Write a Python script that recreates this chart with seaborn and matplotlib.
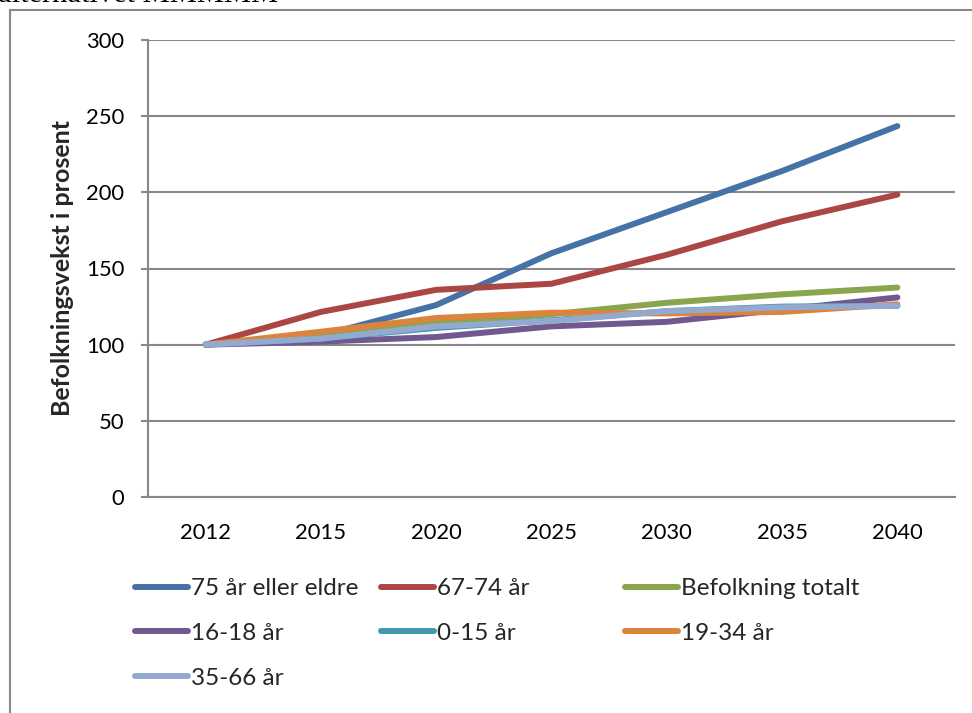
import matplotlib
matplotlib.use("Agg")
import matplotlib.pyplot as plt
import seaborn as sns
import pandas as pd
from matplotlib.lines import Line2D
from matplotlib.patches import Rectangle

years = ["2012", "2015", "2020", "2025", "2030", "2035", "2040"]
s_75 = [100, 106, 126, 160, 187, 214, 243.5]
s_6774 = [100, 121.5, 136, 140, 159, 181, 198.5]
s_total = [100, 106, 114, 120, 127.5, 133, 137.5]
s_1618 = [100, 102, 105, 112, 115, 123, 131]
s_015 = [100, 104, 111, 116, 122, 125, 125.5]
s_1934 = [100, 108.5, 117.5, 121, 120.5, 121.5, 126.5]
s_3566 = [100, 104, 112, 115.5, 122, 124.5, 125.5]

series_names = ["75 år eller eldre", "67-74 år", "Befolkning totalt",
                "16-18 år", "0-15 år", "19-34 år", "35-66 år"]
series_vals = [s_75, s_6774, s_total, s_1618, s_015, s_1934, s_3566]
colors = ["#4572A7", "#AA4643", "#89A54E", "#71588F", "#4198AF", "#DB843D", "#93A9CF"]

rows = []
for name, vals in zip(series_names, series_vals):
    for i, (yr, v) in enumerate(zip(years, vals)):
        rows.append({"pos": i, "year": yr, "value": v, "serie": name})
df = pd.DataFrame(rows)

sns.set_theme(style="white")
plt.rcParams["font.family"] = ["Lato", "DejaVu Sans"]

W, H = 972, 713
fig = plt.figure(figsize=(W / 100, H / 100), dpi=100)
ax = fig.add_axes([148 / W, 1 - 497 / H, (955 - 148) / W, (497 - 40) / H])

LW = 4.3
palette = dict(zip(series_names, colors))
sns.lineplot(data=df, x="pos", y="value", hue="serie", hue_order=series_names,
             palette=palette, sort=False, lw=LW, ax=ax, legend=False)
for ln in ax.lines:
    ln.set_solid_capstyle("round")
    ln.set_solid_joinstyle("round")
    ln.set_clip_on(False)

grid_c = "#888888"
ax.set_xlim(-0.5, len(years) - 0.5)
ax.set_ylim(0, 300)
ax.set_yticks(range(0, 301, 50))
ax.yaxis.grid(True, color=grid_c, lw=1.5)
ax.xaxis.grid(False)
ax.set_axisbelow(True)
for s in ["top", "right"]:
    ax.spines[s].set_visible(False)
for s in ["left", "bottom"]:
    ax.spines[s].set_color(grid_c)
    ax.spines[s].set_linewidth(1.5)

fs = 15.8
ax.set_xticks(range(len(years)))
ax.set_xticklabels(years, fontsize=fs, color="black")
ax.set_xticks([i - 0.5 for i in range(len(years) + 1)], minor=True)
ax.tick_params(axis="x", which="major", length=0, pad=19)
ax.tick_params(axis="x", which="minor", length=5, width=1.5, color=grid_c, direction="out")
ax.tick_params(axis="y", which="major", length=5, width=1.5, color=grid_c, pad=12,
               labelsize=fs, labelcolor="black", left=True)
ax.set_xlabel("")
ax.set_ylabel("Befolkningsvekst i prosent", fontsize=18, fontweight="bold")
ax.yaxis.set_label_coords((74 - 148) / (955 - 148), 0.5)

# outer frame (text box border)
fig.patches.append(Rectangle((10 / W, -0.1), 1.2, 1.1 - 10.5 / H, transform=fig.transFigure,
                             fill=False, edgecolor="#888888", lw=1.5))
fig.text(-2 / W, 1 - 2 / H, "alternativet MMMMM", family="Liberation Serif",
         fontsize=22, va="baseline", ha="left", color="black")

# legend as three column blocks
lfs = 17.5
cols = [[0, 3, 6], [1, 4], [2, 5]]
xstarts = [135, 381, 625]
for col, xs in zip(cols, xstarts):
    handles = [Line2D([], [], color=colors[i], lw=LW, solid_capstyle="round") for i in col]
    labels = [series_names[i] for i in col]
    fig.legend(handles, labels, loc="upper left",
               bbox_to_anchor=(xs / W, 1 - 578 / H), bbox_transform=fig.transFigure,
               frameon=False, fontsize=lfs, handlelength=2.2, handletextpad=0.12,
               labelspacing=0.98, borderpad=0, borderaxespad=0)

fig.savefig("out.png", dpi=100)
